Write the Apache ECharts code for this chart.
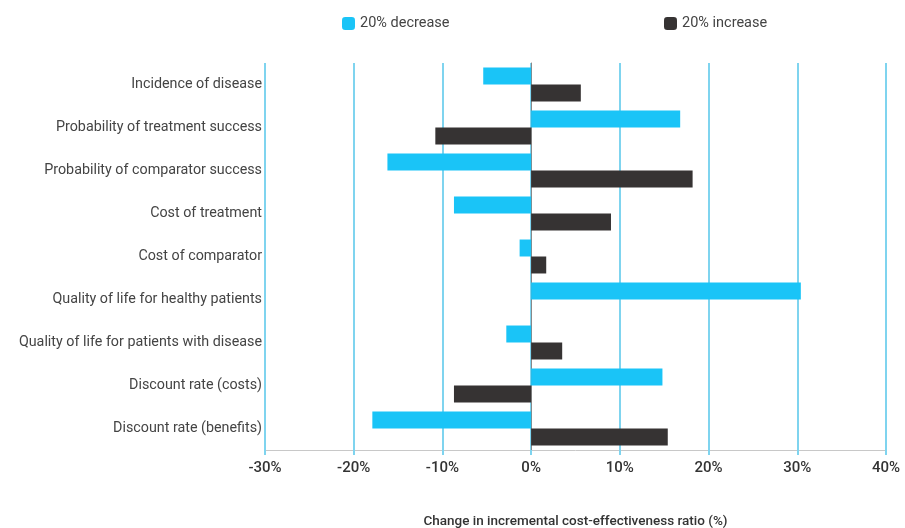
<!DOCTYPE html>
<html><head><meta charset="utf-8">
<script src="https://cdn.jsdelivr.net/npm/echarts@6/dist/echarts.min.js"></script>
<style>html,body{margin:0;padding:0;background:#fff}#c{width:905px;height:528px}</style>
</head><body><div id="c"></div>
<script>
const categories = [
  'Incidence of disease',
  'Probability of treatment success',
  'Probability of comparator success',
  'Cost of treatment',
  'Cost of comparator',
  'Quality of life for healthy patients',
  'Quality of life for patients with disease',
  'Discount rate (costs)',
  'Discount rate (benefits)'
];
const decrease = [-5.4, 16.8, -16.2, -8.7, -1.3, 30.4, -2.8, 14.8, -17.9];
const increase = [5.6, -10.8, 18.2, 9.0, 1.7, 0, 3.5, -8.7, 15.4];
const xTicks = [-30, -20, -10, 0, 10, 20, 30, 40];

const chart = echarts.init(document.getElementById('c'), null, {renderer: 'canvas'});
const FONT = 'Roboto';
chart.setOption({
  animation: false,
  textStyle: {fontFamily: FONT},
  legend: [
    {data: ['20% decrease'], left: 337, top: 11, itemWidth: 13, itemHeight: 13, itemGap: 8,
     textStyle: {fontFamily: FONT, fontSize: 14.5, color: '#444'}},
    {data: ['20% increase'], left: 659, top: 11, itemWidth: 13, itemHeight: 13, itemGap: 8,
     textStyle: {fontFamily: FONT, fontSize: 14.5, color: '#444'}}
  ],
  grid: {left: 265, right: 19, top: 63, height: 387, containLabel: false, outerBoundsMode: 'none'},
  xAxis: {
    type: 'value', min: xTicks[0], max: xTicks[xTicks.length - 1], interval: 10,
    axisLabel: {formatter: v => v + '%', fontFamily: FONT, fontSize: 15, fontWeight: 500, color: '#333', margin: 11},
    axisLine: {show: true, onZero: false, lineStyle: {color: '#c8c8c8', width: 1}},
    axisTick: {show: true, length: 5, lineStyle: {color: '#7fd4ef', width: 2}},
    splitLine: {show: true, lineStyle: {color: '#7fd4ef', width: 2}},
    name: 'Change in incremental cost-effectiveness ratio (%)',
    nameLocation: 'middle', nameGap: 65,
    nameTextStyle: {fontFamily: FONT, fontSize: 13.5, fontWeight: 500, color: '#333'}
  },
  yAxis: {
    type: 'category', data: categories, inverse: true,
    axisLine: {show: true, onZero: true, lineStyle: {color: '#888', width: 1}},
    axisTick: {show: false},
    axisLabel: {fontFamily: FONT, fontSize: 14.3, color: '#444', margin: 3,
      padding: [0, 0, 13, 0],
      formatter: v => v}
  },
  series: [
    {name: '20% decrease', type: 'bar', data: decrease, barGap: '0%', barCategoryGap: '21%',
     itemStyle: {color: '#1ac4f7'}, z: 3},
    {name: '20% increase', type: 'bar', data: increase,
     itemStyle: {color: '#363333'}, z: 3}
  ]
});
</script>
</body></html>
